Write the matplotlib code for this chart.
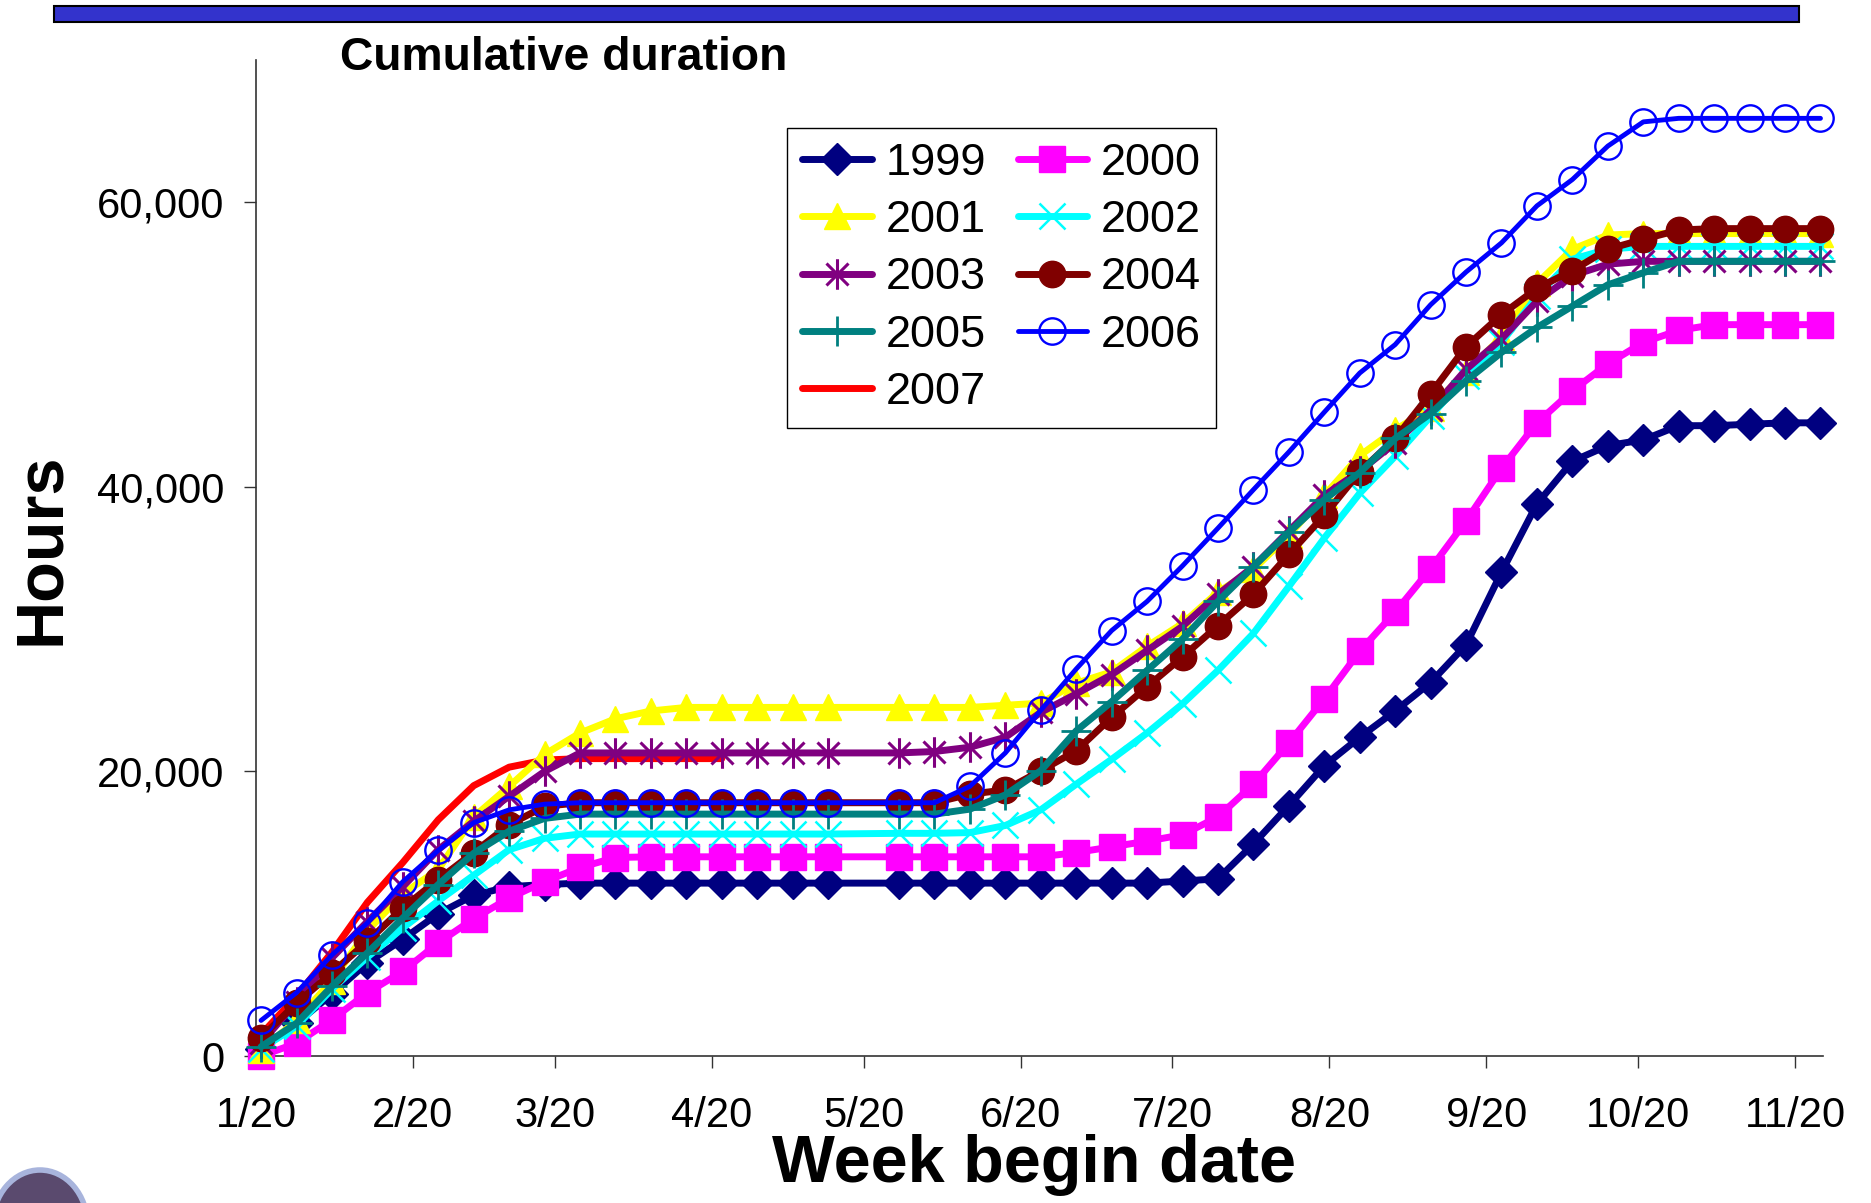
import matplotlib
matplotlib.use('Agg')
import matplotlib.pyplot as plt
from matplotlib.path import Path
from matplotlib.patches import Rectangle, Ellipse
import pandas as pd

plt.rcParams['font.family'] = ['Liberation Sans', 'DejaVu Sans']

# week begin dates (Sundays); the week of 5/20 is missing from the data
weeks = pd.date_range('2007-01-21', periods=45, freq='7D').delete(17)

# cumulative hours per week
h1999 = [500, 2300, 4350, 6550, 8200, 10000, 11300, 11900, 12050, 12150, 12150, 12150, 12150,
         12150, 12150, 12150, 12150,
         12150, 12150, 12150, 12150, 12150, 12150, 12150, 12150, 12300, 12450, 14900, 17600, 20400,
         22400, 24250, 26250, 28900, 34000, 38800, 41800, 42900, 43300, 44300, 44300, 44400, 44500, 44500]
h2000 = [0, 900, 2550, 4450, 5950, 7950, 9650, 11100, 12250, 13250, 13950, 14000, 14000, 14000,
         14000, 14000, 14000,
         14000, 14000, 14000, 14000, 14000, 14300, 14700, 15100, 15550, 16800, 19100, 22000, 25100,
         28450, 31200, 34250, 37600, 41300, 44500, 46750, 48650, 50150, 51000, 51400, 51400, 51400, 51400]
h2001 = [400, 2500, 5300, 8800, 11400, 13100, 16800, 18950, 21200, 22700, 23700, 24250, 24500,
         24500, 24500, 24500, 24500,
         24500, 24500, 24500, 24650, 24800, 26200, 27000, 28800, 30400, 32600, 34200, 36600, 39400,
         42200, 44000, 45550, 48100, 50500, 54300, 56700, 57700, 57800, 57800, 57800, 57800, 57800, 57800]
h2002 = [500, 2100, 4700, 6950, 9000, 10900, 12700, 14500, 15300, 15600, 15600, 15600, 15600,
         15600, 15600, 15600, 15600,
         15650, 15650, 15700, 16200, 17300, 19100, 20850, 22700, 24750, 27100, 29700, 33000, 36400,
         39550, 42150, 44950, 47800, 50150, 53400, 56000, 56700, 56900, 56900, 56900, 56900, 56900, 56900]
h2003 = [900, 3800, 6900, 9450, 11900, 14500, 16500, 18250, 20000, 21300, 21300, 21300, 21300,
         21300, 21300, 21300, 21300,
         21300, 21400, 21700, 22400, 24150, 25450, 26800, 28500, 30200, 32450, 34400, 36900, 39400,
         41100, 43100, 45400, 48250, 50400, 53050, 54850, 55650, 55850, 55850, 55850, 55850, 55850, 55850]
h2004 = [1300, 3700, 5850, 8050, 10400, 12400, 14300, 16250, 17550, 17800, 17800, 17800, 17800,
         17800, 17800, 17800, 17800,
         17800, 17800, 18400, 18700, 20050, 21450, 23800, 25950, 28050, 30250, 32450, 35250, 38000,
         41050, 43400, 46550, 49850, 52100, 53950, 55200, 56700, 57400, 58050, 58150, 58150, 58150, 58150]
h2005 = [650, 2300, 4900, 7250, 9700, 12050, 14250, 15800, 16700, 17000, 17000, 17000, 17000,
         17000, 17000, 17000, 17000,
         17000, 17000, 17350, 18350, 20050, 22850, 24900, 27100, 29300, 31950, 34400, 36800, 39100,
         41000, 43400, 45150, 47450, 49450, 51200, 52700, 54200, 55050, 55850, 55850, 55850, 55850, 55850]
h2006 = [2500, 4450, 7100, 9350, 12250, 14450, 16400, 17300, 17700, 17800, 17800, 17800, 17800,
         17800, 17800, 17800, 17800,
         17800, 17800, 18950, 21300, 24300, 27200, 29900, 31950, 34450, 37100, 39800, 42450, 45250,
         48000, 50000, 52800, 55100, 57150, 59750, 61600, 63950, 65650, 65900, 65900, 65900, 65900, 65900]
h2007 = [1500, 4200, 7300, 10800, 13600, 16600, 19000, 20300, 20800, 20900, 20900, 20900, 20900, 20900]

tick_dates = pd.to_datetime(['2007-%02d-20' % m for m in range(1, 12)])
tick_labels = ['1/20', '2/20', '3/20', '4/20', '5/20', '6/20', '7/20', '8/20', '9/20', '10/20', '11/20']
y_ticks = [0, 20000, 40000, 60000]

# Excel style asterisk: vertical bar plus an X
asterisk = Path([(0, -1), (0, 1), (-0.72, -0.72), (0.72, 0.72), (-0.72, 0.72), (0.72, -0.72)],
                [Path.MOVETO, Path.LINETO] * 3)

W, H = 1871, 1203
fig = plt.figure(figsize=(W / 100, H / 100), dpi=100)
ax = fig.add_axes([256 / W, 1 - 1056 / H, (1823 - 256) / W, (1056 - 60) / H])

series = [
    ('1999', h1999, '#000080', 'D', 16, 5, 1),
    ('2000', h2000, '#FF00FF', 's', 19, 5, 1),
    ('2001', h2001, '#FFFF00', '^', 19, 5, 1),
    ('2002', h2002, '#00FFFF', 'x', 19, 5, 1.8),
    ('2003', h2003, '#800080', asterisk, 22, 5, 2.2),
    ('2004', h2004, '#800000', 'o', 19, 5, 1),
    ('2005', h2005, '#008080', '+', 21, 5, 2),
    ('2006', h2006, '#0000FF', 'o', 19, 3.5, 1.7),
]

lines = {}
ln, = ax.plot(weeks[:len(h2007)], h2007, color='#FF0000', lw=5, zorder=1.5,
              solid_capstyle='round', solid_joinstyle='round', clip_on=False, label='2007')
lines['2007'] = ln
for i, (name, vals, col, mk, ms, lw, mew) in enumerate(series):
    face = 'none' if name in ('2006', '2003') else col
    ln, = ax.plot(weeks, vals, color=col, lw=lw, marker=mk, ms=ms, mfc=face, mec=col, mew=mew,
                  zorder=2 + i, solid_capstyle='round', solid_joinstyle='round',
                  clip_on=False, label=name)
    lines[name] = ln

ax.set_ylim(0, 70000)
ax.set_yticks(y_ticks)
ax.set_yticklabels(['{:,}'.format(v) for v in y_ticks])
ax.set_xlim(pd.Timestamp('2007-01-20'), pd.Timestamp('2007-11-25 12:00'))
ax.set_xticks(tick_dates)
ax.set_xticklabels(tick_labels)
ax.tick_params(axis='both', direction='out', length=8.5, width=1, labelsize=30, color='#333333')
ax.tick_params(axis='x', pad=20)
ax.tick_params(axis='y', pad=14)
for side in ('top', 'right'):
    ax.spines[side].set_visible(False)
for side in ('left', 'bottom'):
    ax.spines[side].set_color('#333333')
    ax.spines[side].set_linewidth(1.2)

order = ['1999', '2001', '2003', '2005', '2007', '2000', '2002', '2004', '2006']
leg = ax.legend([lines[n] for n in order], order, ncol=2, fontsize=32.5,
                loc='upper left', bbox_to_anchor=(787 / W, 1 - 128 / H),
                bbox_transform=fig.transFigure, borderaxespad=0, borderpad=0.33,
                handlelength=1.55, handletextpad=0.3, columnspacing=0.7, labelspacing=0.36,
                numpoints=1, fancybox=False, framealpha=1, edgecolor='black')
leg.get_frame().set_linewidth(1)
leg.set_zorder(20)

# header band, titles
fig.patches.append(Rectangle((54 / W, 1 - 22 / H), (1799 - 54) / W, 16 / H, transform=fig.transFigure,
                             facecolor='#3333CC', edgecolor='black', lw=1.5))
fig.text(340 / W, 1 - 58 / H, 'Cumulative duration', fontsize=33.3, fontweight='bold',
         ha='left', va='center')
fig.text(42 / W, 1 - 549 / H, 'Hours', fontsize=48, fontweight='bold', rotation=90,
         ha='center', va='center')
fig.text(1034 / W, 1 - 1182 / H, 'Week begin date', fontsize=48, fontweight='bold',
         ha='center', va='baseline')

# corner logo (partly cut off)
fig.patches.append(Ellipse((40 / W, 1 - 1225 / H), 95 / W, 110 / H, transform=fig.transFigure,
                           facecolor='#5a4a6e', edgecolor='#a8b4dc', lw=4))

fig.savefig('out.png', dpi=100)
